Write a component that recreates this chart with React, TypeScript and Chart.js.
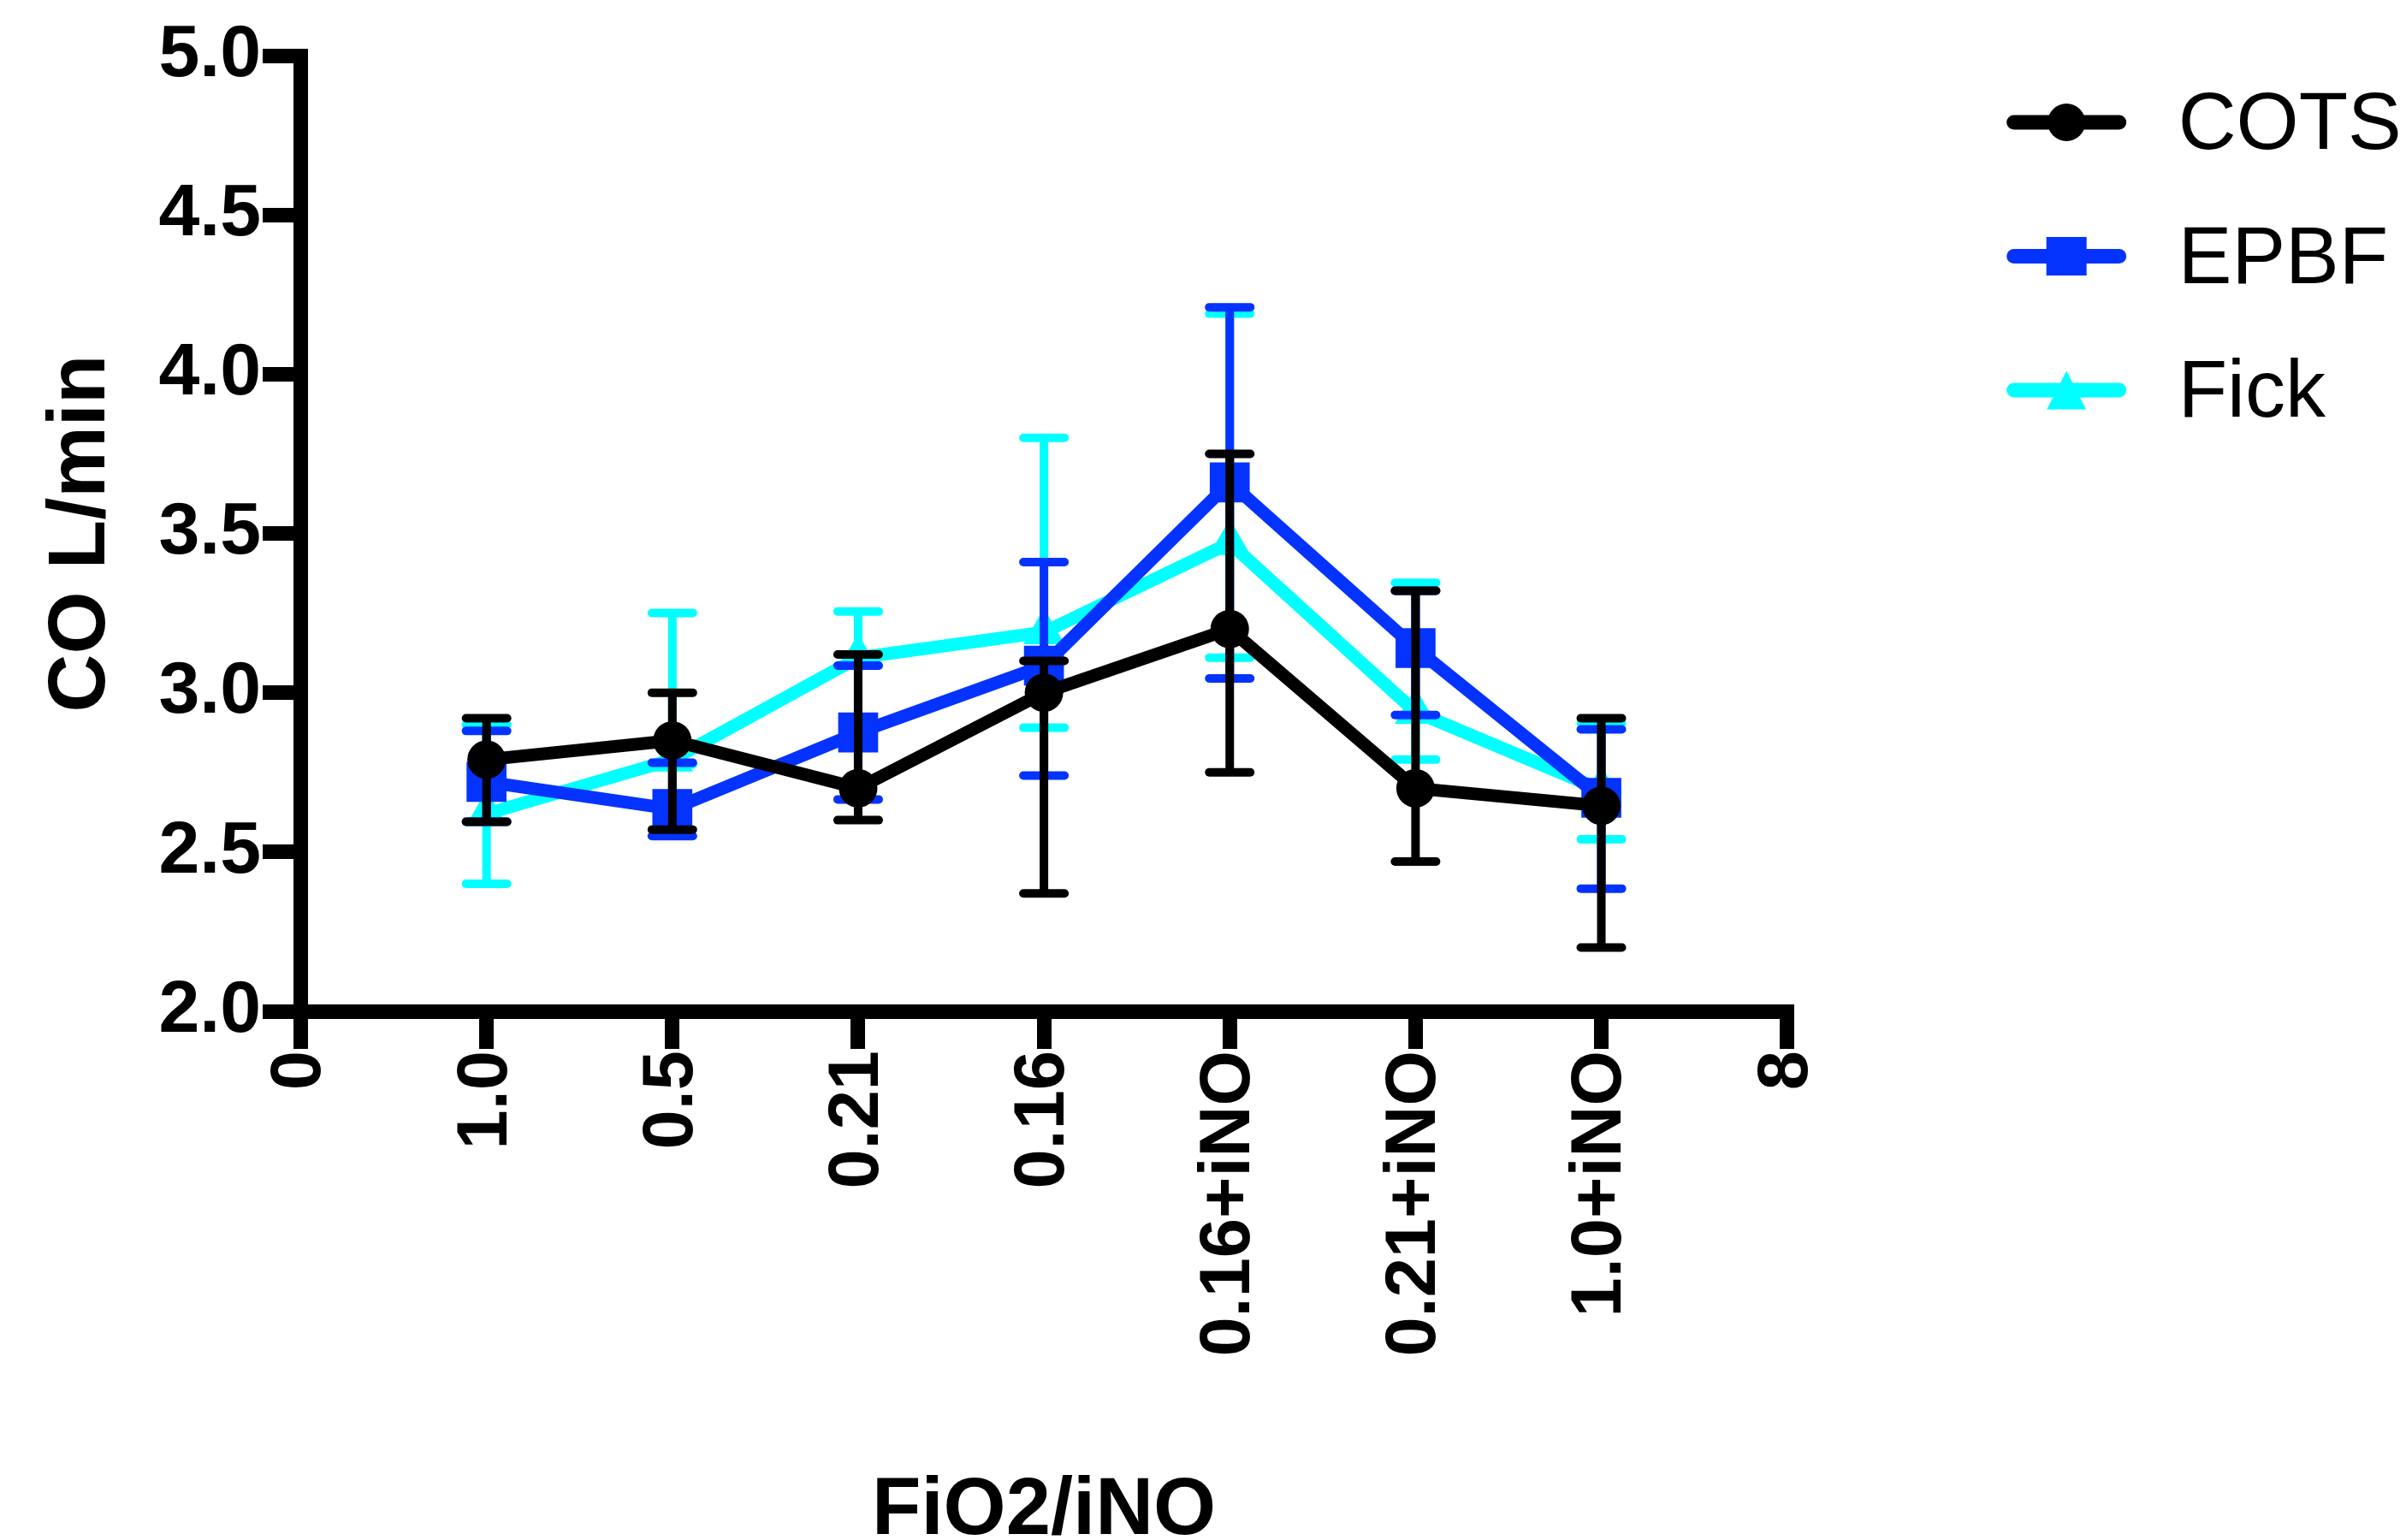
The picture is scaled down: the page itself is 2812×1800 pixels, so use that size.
import React, { useEffect, useRef } from 'react';
import { Chart, registerables } from 'chart.js';

Chart.register(...registerables);

// ---------- data ----------
const categories = ['1.0', '0.5', '0.21', '0.16', '0.16+iNO', '0.21+iNO', '1.0+iNO'];
const xAxisMin = 0;
const xAxisMax = 8;
const yAxisMin = 2.0;
const yAxisMax = 5.0;
const yAxisStep = 0.5;

const seriesNames = ['COTS', 'EPBF', 'Fick'];
const seriesColors = ['#000000', '#0433FF', '#00FFFF'];
const seriesMarkers = ['circle', 'rect', 'triangle'];

const cotsMean = [2.79, 2.85, 2.70, 3.00, 3.20, 2.70, 2.645];
const cotsHigh = [2.92, 3.00, 3.12, 3.10, 3.75, 3.32, 2.92];
const cotsLow = [2.595, 2.57, 2.60, 2.37, 2.75, 2.47, 2.20];

const epbfMean = [2.72, 2.635, 2.875, 3.085, 3.66, 3.14, 2.67];
const epbfHigh = [2.88, 2.78, 3.085, 3.41, 4.21, 3.32, 2.885];
const epbfLow = [2.595, 2.55, 2.665, 2.74, 3.045, 2.93, 2.385];

const fickMean = [2.62, 2.79, 3.11, 3.19, 3.47, 2.94, 2.695];
const fickHigh = [2.90, 3.25, 3.255, 3.80, 4.19, 3.345, 2.905];
const fickLow = [2.40, 2.775, 3.085, 2.89, 3.11, 2.79, 2.54];

const FONT = '"Liberation Sans", Arial, Helvetica, sans-serif';

// ---------- plugins ----------
const errorBarPlugin = {
  id: 'errorBars',
  beforeDatasetDraw(chart: any, args: any) {
    const ds = chart.data.datasets[args.index];
    if (!ds.errLow || !ds.errHigh) return;
    const ctx = chart.ctx;
    const xs = chart.scales.x;
    const ys = chart.scales.y;
    ctx.save();
    ctx.strokeStyle = ds.borderColor;
    ds.data.forEach((p: any, i: number) => {
      const px = xs.getPixelForValue(p.x);
      const yHi = ys.getPixelForValue(ds.errHigh[i]);
      const yLo = ys.getPixelForValue(ds.errLow[i]);
      ctx.lineCap = 'butt';
      ctx.lineWidth = 10;
      ctx.beginPath();
      ctx.moveTo(px, yHi);
      ctx.lineTo(px, yLo);
      ctx.stroke();
      ctx.lineCap = 'round';
      ctx.lineWidth = 10;
      [yHi, yLo].forEach((yy) => {
        ctx.beginPath();
        ctx.moveTo(px - 24, yy);
        ctx.lineTo(px + 24, yy);
        ctx.stroke();
      });
    });
    ctx.restore();
  },
};

const sideLegendPlugin = {
  id: 'sideLegend',
  afterDraw(chart: any) {
    const ctx = chart.ctx;
    const area = chart.chartArea;
    const lx0 = area.right + 265;
    const lx1 = area.right + 388;
    const mx = (lx0 + lx1) / 2;
    const textX = area.right + 457;
    chart.data.datasets.forEach((ds: any, i: number) => {
      const y = area.top + 78 + i * 156.5;
      ctx.save();
      ctx.strokeStyle = ds.borderColor;
      ctx.fillStyle = ds.borderColor;
      ctx.lineWidth = 17;
      ctx.lineCap = 'round';
      ctx.beginPath();
      ctx.moveTo(lx0, y);
      ctx.lineTo(lx1, y);
      ctx.stroke();
      ctx.beginPath();
      if (ds.pointStyle === 'circle') {
        ctx.arc(mx, y, 22, 0, Math.PI * 2);
      } else if (ds.pointStyle === 'rect') {
        ctx.rect(mx - 23.5, y - 22.5, 47, 45);
      } else {
        ctx.moveTo(mx, y - 22.5);
        ctx.lineTo(mx + 23, y + 22.5);
        ctx.lineTo(mx - 23, y + 22.5);
        ctx.closePath();
      }
      ctx.fill();
      ctx.fillStyle = '#000';
      ctx.font = `94px ${FONT}`;
      ctx.textAlign = 'left';
      ctx.textBaseline = 'alphabetic';
      ctx.fillText(seriesNames[i], textX, y + 31);
      ctx.restore();
    });
  },
};

export default function App() {
  const ref = useRef<HTMLCanvasElement>(null);

  useEffect(() => {
    document.body.style.margin = '0';
    const means = [cotsMean, epbfMean, fickMean];
    const highs = [cotsHigh, epbfHigh, fickHigh];
    const lows = [cotsLow, epbfLow, fickLow];
    const radii = [22.5, 33, 28];

    const datasets = seriesNames.map((name, s) => ({
      label: name,
      data: means[s].map((v, i) => ({ x: i + 1, y: v })),
      errLow: lows[s],
      errHigh: highs[s],
      borderColor: seriesColors[s],
      backgroundColor: seriesColors[s],
      borderWidth: 15,
      pointStyle: seriesMarkers[s],
      pointRadius: radii[s],
      pointBorderWidth: 0,
      pointBackgroundColor: seriesColors[s],
      pointBorderColor: seriesColors[s],
      tension: 0,
      fill: false,
    }));

    const chart = new Chart(ref.current as HTMLCanvasElement, {
      type: 'line',
      data: { datasets } as any,
      plugins: [errorBarPlugin, sideLegendPlugin],
      options: {
        responsive: false,
        animation: false,
        devicePixelRatio: 1,
        events: [],
        layout: { padding: { left: 0, top: 65, right: 723.3, bottom: 0 } },
        plugins: { legend: { display: false }, tooltip: { enabled: false }, title: { display: false } },
        scales: {
          x: {
            type: 'linear',
            min: xAxisMin,
            max: xAxisMax,
            afterFit: (scale: any) => { scale.height = 618; },
            grid: {
              display: true,
              drawOnChartArea: false,
              drawTicks: true,
              tickLength: 44,
              tickWidth: 17,
              lineWidth: 17,
              tickColor: '#000',
              color: '#000',
            },
            border: { display: true, width: 17, color: '#000' },
            ticks: {
              stepSize: 1,
              autoSkip: false,
              minRotation: 90,
              maxRotation: 90,
              padding: 2,
              color: '#000',
              font: { family: FONT, size: 83, weight: 'bold' },
              callback: (v: any) => {
                const n = Number(v);
                return n >= 1 && n <= categories.length ? categories[n - 1] : String(n);
              },
            },
            title: {
              display: true,
              text: 'FiO2/iNO',
              color: '#000',
              padding: 0,
              font: { family: FONT, size: 94, weight: 'bold', lineHeight: 0.7 },
            },
          },
          y: {
            type: 'linear',
            min: yAxisMin,
            max: yAxisMax,
            afterFit: (scale: any) => { scale.width = 351.5; },
            grid: {
              display: true,
              drawOnChartArea: false,
              drawTicks: true,
              tickLength: 44.5,
              tickWidth: 17,
              lineWidth: 17,
              tickColor: '#000',
              color: '#000',
            },
            border: { display: true, width: 17, color: '#000' },
            ticks: {
              stepSize: yAxisStep,
              padding: 2,
              color: '#000',
              font: { family: FONT, size: 86, weight: 'bold' },
              callback: (v: any) => Number(v).toFixed(1),
            },
            title: {
              display: true,
              text: 'CO L/min',
              color: '#000',
              padding: { top: 40, bottom: 0 },
              font: { family: FONT, size: 94, weight: 'bold' },
            },
          },
        },
      } as any,
    });
    return () => chart.destroy();
  }, []);

  return (
    <div style={{ position: 'absolute', left: 0, top: 0, width: 2812, height: 1800, background: '#fff' }}>
      <canvas ref={ref} width={2812} height={1800} style={{ width: 2812, height: 1800, display: 'block' }} />
    </div>
  );
}
